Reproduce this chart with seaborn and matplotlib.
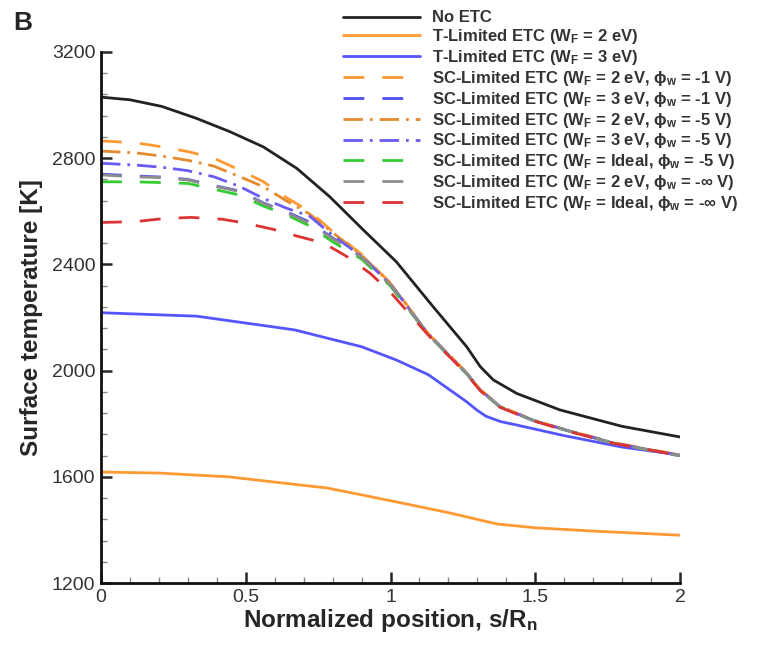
import matplotlib
matplotlib.use("Agg")
import matplotlib.pyplot as plt
from matplotlib.ticker import MultipleLocator
import seaborn as sns
import pandas as pd

sns.set_style("ticks")
plt.rcParams['font.family'] = ['Liberation Sans', 'DejaVu Sans']
plt.rcParams['mathtext.fontset'] = 'custom'
plt.rcParams['mathtext.rm'] = 'Liberation Sans:bold'
plt.rcParams['mathtext.default'] = 'rm'

# ---- data ----
s_black = [0, 0.1, 0.21, 0.33, 0.445, 0.56, 0.676, 0.79, 0.906, 1.02, 1.147, 1.263, 1.31, 1.355, 1.436, 1.585, 1.8, 2.0]
T_black = [3030, 3020, 2995, 2950, 2900, 2843, 2762, 2655, 2530, 2410, 2241, 2090, 2015, 1965, 1914, 1852, 1790, 1750]

s_t2 = [0, 0.2, 0.44, 0.6, 0.78, 0.9, 1.04, 1.2, 1.31, 1.37, 1.5, 1.71, 2.0]
T_t2 = [1618, 1614, 1600, 1580, 1558, 1532, 1501, 1465, 1437, 1422, 1408, 1395, 1380]

s_t3 = [0, 0.33, 0.56, 0.67, 0.79, 0.9, 1.02, 1.13, 1.26, 1.3, 1.33, 1.38, 1.436, 1.6, 1.8, 2.0]
T_t3 = [2218, 2205, 2170, 2153, 2120, 2090, 2040, 1985, 1885, 1850, 1828, 1808, 1795, 1755, 1712, 1682]

s_sc = [0, 0.12, 0.21, 0.30, 0.39, 0.48, 0.56, 0.64, 0.72, 0.80, 0.90, 1.0, 1.13, 1.263, 1.31, 1.378, 1.49, 1.6, 1.77, 2.0]
T_sc_2_1 = [2865, 2858, 2843, 2825, 2800, 2755, 2712, 2652, 2600, 2524, 2438, 2330, 2140, 1992, 1929, 1866, 1815, 1779, 1729, 1682]
T_sc_3_1 = [2740, 2733, 2729, 2720, 2697, 2676, 2632, 2598, 2560, 2500, 2428, 2323, 2137, 1989, 1926, 1864, 1814, 1778, 1727, 1680]
T_sc_2_5 = [2827, 2820, 2808, 2792, 2770, 2730, 2693, 2640, 2590, 2520, 2435, 2328, 2139, 1991, 1928, 1865, 1814, 1778, 1728, 1681]
T_sc_3_5 = [2781, 2774, 2766, 2753, 2730, 2693, 2649, 2612, 2582, 2510, 2430, 2325, 2138, 1990, 1927, 1864, 1814, 1778, 1727, 1680]
T_sc_i_5 = [2711, 2711, 2708, 2705, 2683, 2661, 2620, 2587, 2545, 2485, 2420, 2318, 2135, 1988, 1925, 1863, 1813, 1777, 1726, 1679]
T_sc_2_inf = [2737, 2730, 2727, 2718, 2695, 2674, 2630, 2595, 2555, 2497, 2427, 2322, 2136, 1989, 1926, 1864, 1813, 1777, 1726, 1679]

s_red = [0, 0.12, 0.21, 0.31, 0.42, 0.50, 0.595, 0.676, 0.77, 0.85, 0.93, 1.0, 1.13, 1.263, 1.31, 1.378, 1.49, 1.6, 1.77, 2.0]
T_red = [2558, 2561, 2572, 2577, 2570, 2555, 2532, 2507, 2480, 2429, 2366, 2295, 2134, 1987, 1924, 1862, 1812, 1776, 1726, 1680]

labels = [
    "No ETC",
    "T-Limited ETC (W$_F$ = 2 eV)",
    "T-Limited ETC (W$_F$ = 3 eV)",
    "SC-Limited ETC (W$_F$ = 2 eV, \u03d5$_w$ = -1 V)",
    "SC-Limited ETC (W$_F$ = 3 eV, \u03d5$_w$ = -1 V)",
    "SC-Limited ETC (W$_F$ = 2 eV, \u03d5$_w$ = -5 V)",
    "SC-Limited ETC (W$_F$ = 3 eV, \u03d5$_w$ = -5 V)",
    "SC-Limited ETC (W$_F$ = Ideal, \u03d5$_w$ = -5 V)",
    "SC-Limited ETC (W$_F$ = 2 eV, \u03d5$_w$ = -\u221e V)",
    "SC-Limited ETC (W$_F$ = Ideal, \u03d5$_w$ = -\u221e V)",
]

series = [
    (s_black, T_black), (s_t2, T_t2), (s_t3, T_t3),
    (s_sc, T_sc_2_1), (s_sc, T_sc_3_1), (s_sc, T_sc_2_5), (s_sc, T_sc_3_5),
    (s_sc, T_sc_i_5), (s_sc, T_sc_2_inf), (s_red, T_red),
]

colors = ["#222222", "#FF9933", "#5555FF", "#FF9933", "#4F4FF0", "#E58A2E",
          "#6A5CF0", "#33CC33", "#8C8C8C", "#DD3333"]
dash = (0, (7.5, 6.5))
dashdot = (0, (7, 2.5, 1, 2.5))
styles = ["-", "-", "-", dash, dash, dashdot, dashdot, dash, dash, dash]

fig = plt.figure(figsize=(7.61, 6.51), dpi=100)
ax = fig.add_axes([101/761, 1 - 583/651, (680 - 101)/761, (583 - 52)/651])

for (xs, ys), lab, c, ls in zip(series, labels, colors, styles):
    df = pd.DataFrame({"s": xs, "T": ys})
    sns.lineplot(data=df, x="s", y="T", ax=ax, color=c, linestyle=ls,
                 linewidth=2, label=lab, estimator=None, sort=False)

ax.set_xlim(0, 2)
ax.set_ylim(1200, 3200)
ax.xaxis.set_major_locator(MultipleLocator(0.5))
ax.xaxis.set_minor_locator(MultipleLocator(0.1))
ax.yaxis.set_major_locator(MultipleLocator(400))
ax.yaxis.set_minor_locator(MultipleLocator(80))
ax.set_xticks([0, 0.5, 1, 1.5, 2])
ax.set_xticklabels(["0", "0.5", "1", "1.5", "2"])
ax.tick_params(which="major", direction="in", length=8, width=1.8, labelsize=14,
               labelcolor="#333333", pad=4)
ax.tick_params(which="minor", direction="in", length=4, width=1, color="#888888")
for sp in ["top", "right"]:
    ax.spines[sp].set_visible(False)
for sp in ["left", "bottom"]:
    ax.spines[sp].set_linewidth(2)
    ax.spines[sp].set_color("#111111")

ax.set_xlabel("Normalized position, s/R$_n$", fontsize=17.5, fontweight="bold", labelpad=1)
ax.set_ylabel("Surface temperature [K]", fontsize=17.5, fontweight="bold", labelpad=6)

leg = ax.legend(loc="upper left", bbox_to_anchor=(335/761, 1 - 2/651),
                bbox_transform=fig.transFigure, frameon=False, fontsize=12,
                handlelength=4.6, labelspacing=0.11, handletextpad=0.7, borderpad=0)
for t in leg.get_texts():
    t.set_fontweight("bold")
    t.set_color("#333333")

fig.text(13/761, 1 - 30/651, "B", fontsize=19, fontweight="bold")

fig.savefig("out.png", dpi=100)
